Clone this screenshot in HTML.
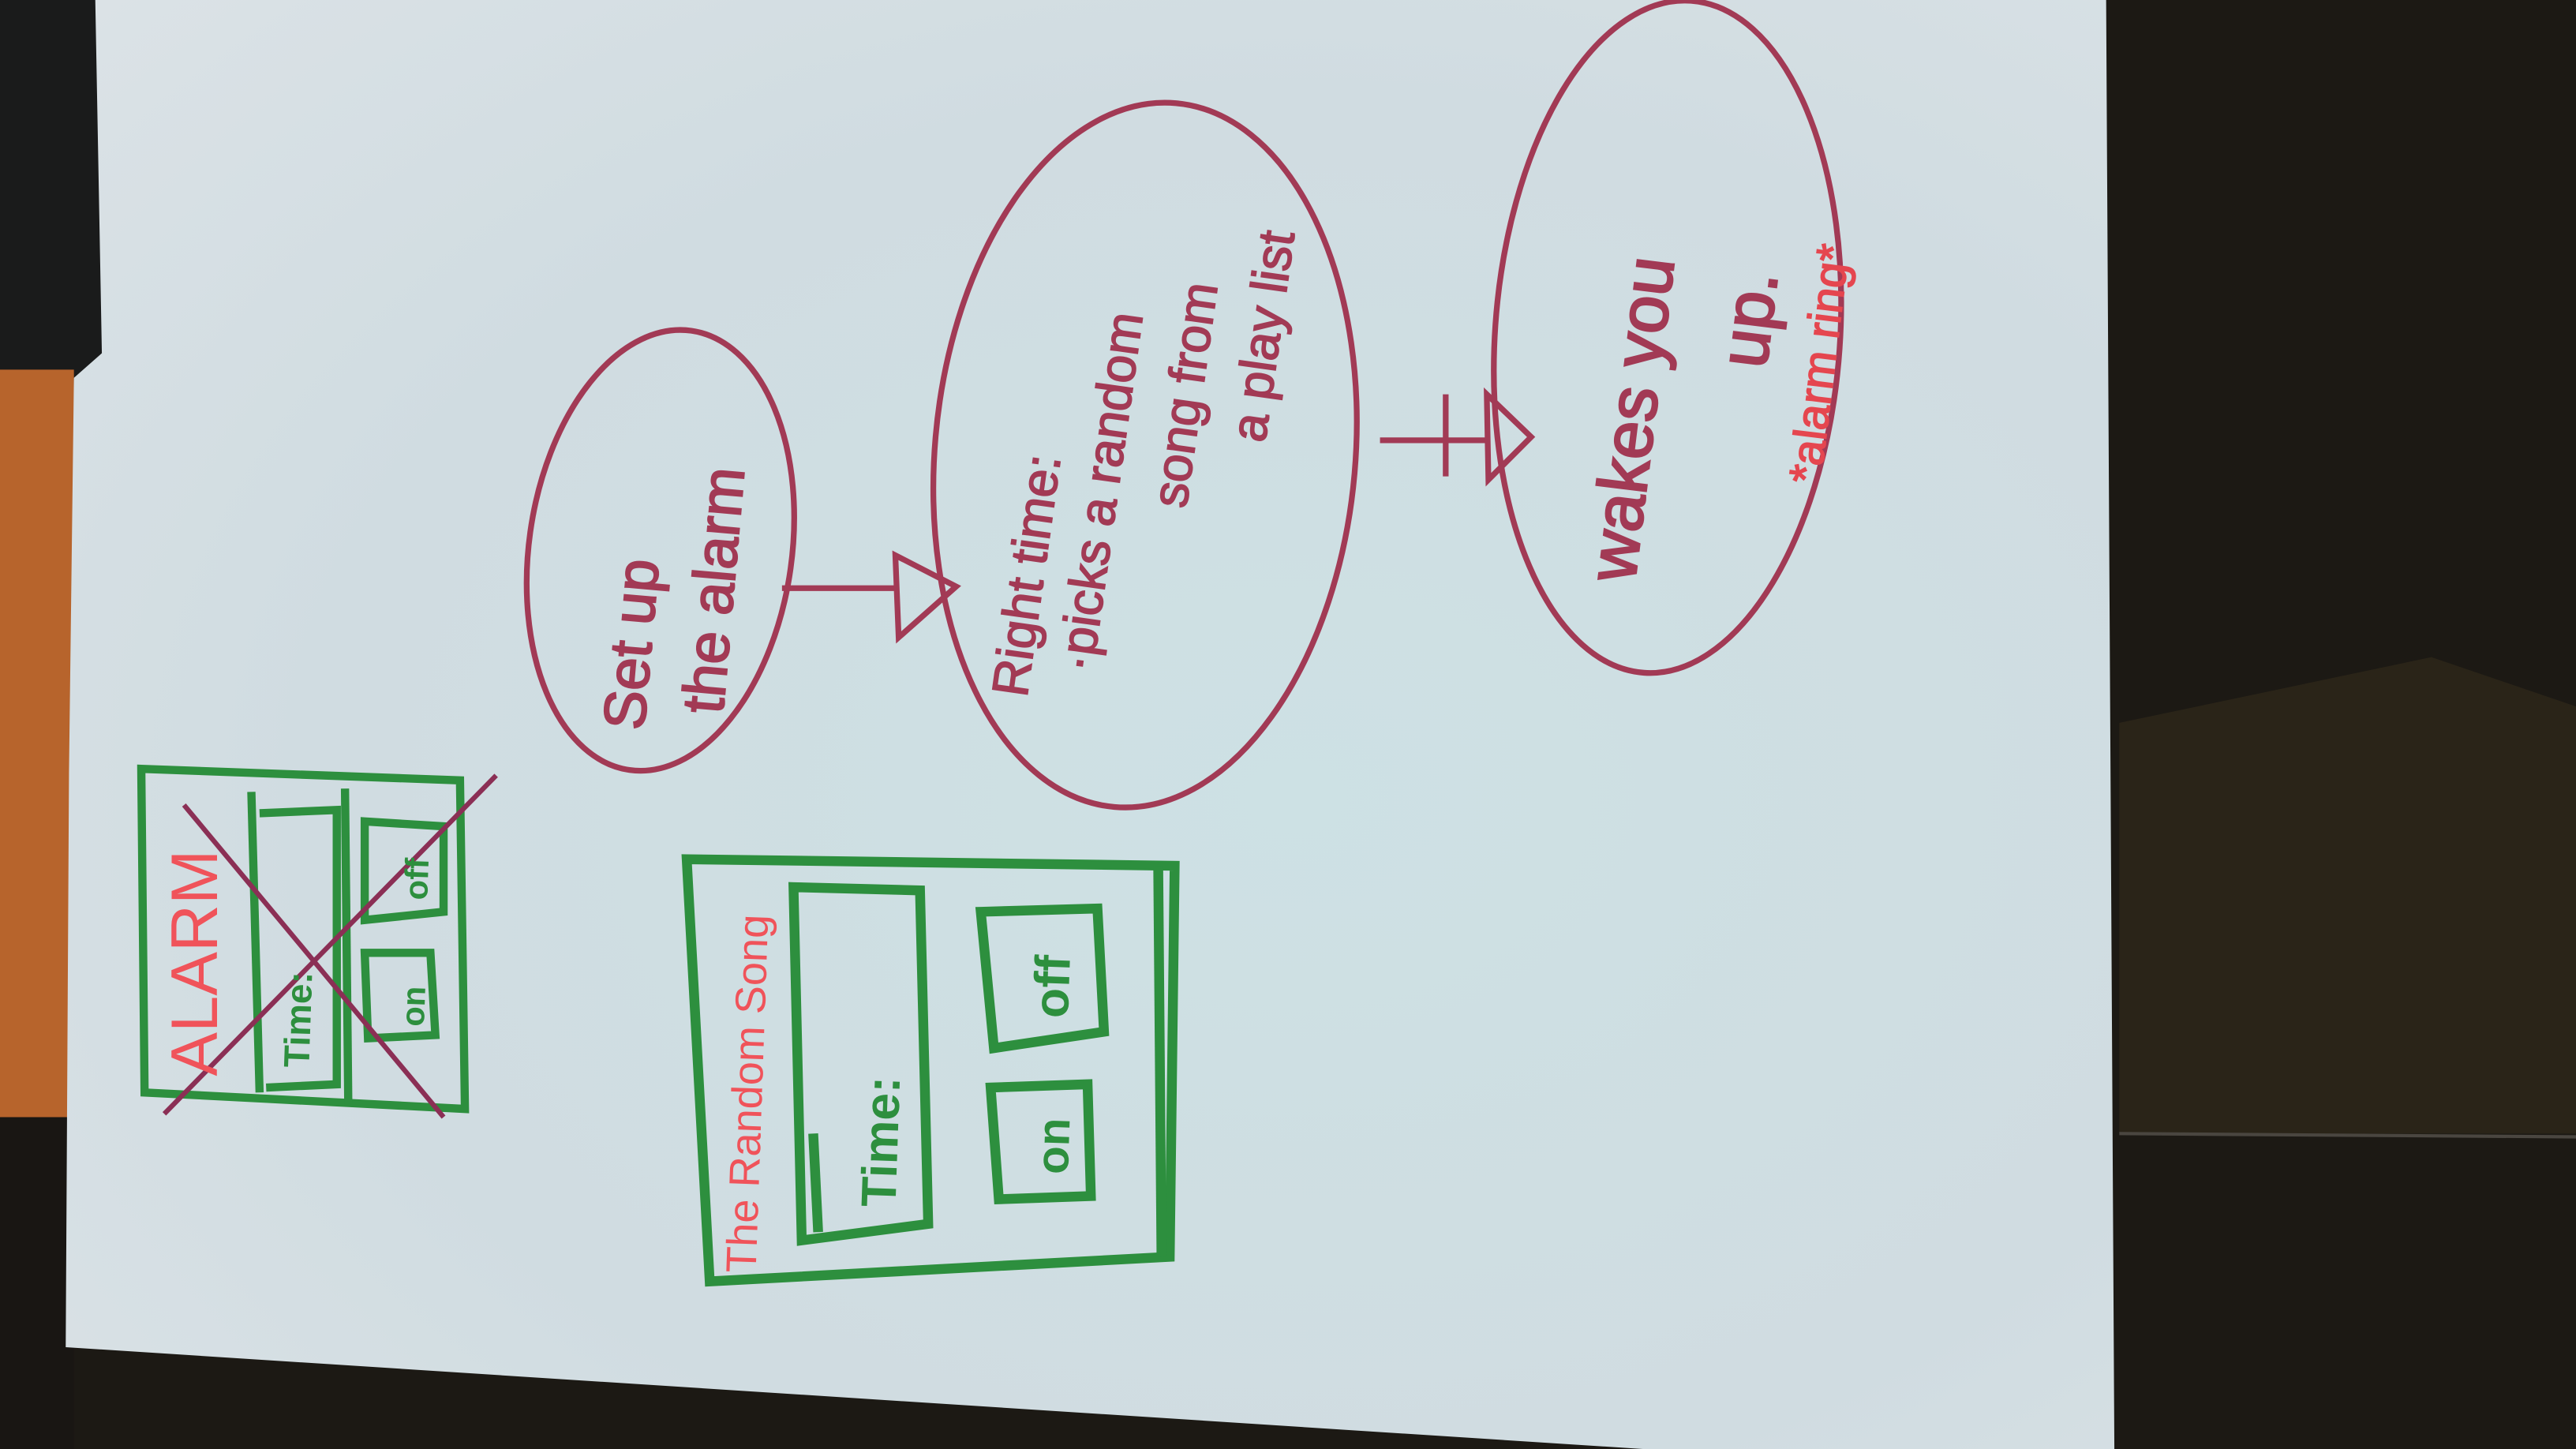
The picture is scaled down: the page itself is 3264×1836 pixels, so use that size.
<!DOCTYPE html>
<html><head><meta charset="utf-8"><style>
html,body{margin:0;padding:0;width:3264px;height:1836px;overflow:hidden;background:#1c1914}
svg{display:block}
</style></head><body>
<svg width="3264" height="1836" viewBox="0 0 1568 882" preserveAspectRatio="none" xmlns="http://www.w3.org/2000/svg">
<defs>
<radialGradient id="pg" cx="0.6" cy="0.55" r="0.8">
<stop offset="0" stop-color="#cde1e4"/>
<stop offset="0.6" stop-color="#d0dce1"/>
<stop offset="1" stop-color="#dbe2e6"/>
</radialGradient>
</defs>
<rect x="0" y="0" width="1568" height="882" fill="#1c1914"/>
<polygon points="1290,440 1480,400 1568,430 1568,690 1290,690" fill="#2a2418"/>
<line x1="1290" y1="690" x2="1568" y2="692" stroke="#4a4640" stroke-width="2"/>
<rect x="0" y="0" width="70" height="230" fill="#1a1b1b"/>
<rect x="0" y="225" width="45" height="460" fill="#b7642c"/>
<rect x="0" y="680" width="45" height="202" fill="#191613"/>
<polygon points="58,0 1282,0 1287,882 1000,882 40,820 42,470 45,230 62,215" fill="url(#pg)"/>
<g fill="none" stroke="#a23a55" stroke-width="3.5">
<ellipse cx="402" cy="335" rx="80" ry="135" transform="rotate(8 402 335)"/>
<ellipse cx="697" cy="277" rx="128" ry="215" transform="rotate(5 697 277)"/>
<ellipse cx="1015" cy="205" rx="105" ry="205" transform="rotate(4 1015 205)"/>
<line x1="476" y1="358" x2="545" y2="358"/>
<path d="M545,338 L582,357 L547,388 Z"/>
<line x1="840" y1="268" x2="905" y2="268"/>
<line x1="880" y1="240" x2="880" y2="290"/>
<path d="M905,240 L932,266 L906,292 Z"/>
</g>
<g fill="#a23a55" stroke="#a23a55" stroke-width="1" font-family="Liberation Sans, sans-serif" font-size="36">
<text transform="translate(392,445) rotate(-85)">Set up</text>
<text transform="translate(440,435) rotate(-85)">the alarm</text>
</g>
<g fill="#a23a55" stroke="#a23a55" stroke-width="0.8" font-family="Liberation Sans, sans-serif" font-size="31">
<text transform="translate(625,425) rotate(-82)">Right time:</text>
<text transform="translate(665,410) rotate(-82)">·picks a random</text>
<text transform="translate(722,310) rotate(-82)">song from</text>
<text transform="translate(770,270) rotate(-82)">a play list</text>
</g>
<g fill="#a23a55" stroke="#a23a55" stroke-width="1.2" font-family="Liberation Sans, sans-serif" font-size="42">
<text transform="translate(995,355) rotate(-83)">wakes you</text>
<text transform="translate(1075,225) rotate(-83)">up.</text>
</g>
<text transform="translate(1108,295) rotate(-83)" fill="#e5464f" stroke="#e5464f" stroke-width="0.8" font-family="Liberation Sans, sans-serif" font-size="28">*alarm ring*</text>
<g fill="none" stroke="#2d8f3e" stroke-width="5">
<path d="M86,468 L280,475 L283,675 L88,665 Z"/>
<line x1="153" y1="482" x2="158" y2="665"/>
<line x1="210" y1="480" x2="212" y2="672"/>
<path d="M158,495 L205,493 L205,660 L162,662"/>
<path d="M222,500 L270,503 L270,555 L222,560 Z"/>
<path d="M222,580 L262,580 L265,630 L224,632 Z"/>
</g>
<g fill="none" stroke="#8b2f55" stroke-width="3">
<line x1="112" y1="490" x2="270" y2="680"/>
<line x1="100" y1="678" x2="302" y2="472"/>
</g>
<text transform="translate(132,655) rotate(-90)" fill="#f0535a" font-family="Liberation Sans, sans-serif" font-size="40">ALARM</text>
<text transform="translate(188,650) rotate(-88)" fill="#2d8f3e" font-family="Liberation Sans, sans-serif" font-size="22" font-weight="bold">Time:</text>
<text transform="translate(260,548) rotate(-88)" fill="#2d8f3e" font-family="Liberation Sans, sans-serif" font-size="20" font-weight="bold">off</text>
<text transform="translate(258,625) rotate(-88)" fill="#2d8f3e" font-family="Liberation Sans, sans-serif" font-size="20" font-weight="bold">on</text>
<g fill="none" stroke="#2d8f3e" stroke-width="6">
<path d="M418,523 L715,527 L712,765 L432,780 Z"/>
<line x1="705" y1="527" x2="707" y2="765"/>
<path d="M483,540 L560,542 L565,745 L488,755 Z"/>
<line x1="495" y1="690" x2="498" y2="750"/>
<path d="M597,555 L668,553 L672,628 L605,638 Z"/>
<path d="M603,662 L662,660 L664,728 L608,730 Z"/>
</g>
<text transform="translate(460,775) rotate(-88)" fill="#f0535a" font-family="Liberation Sans, sans-serif" font-size="26">The Random Song</text>
<text transform="translate(545,735) rotate(-88)" fill="#2d8f3e" font-family="Liberation Sans, sans-serif" font-size="30" font-weight="bold">Time:</text>
<text transform="translate(650,620) rotate(-88)" fill="#2d8f3e" font-family="Liberation Sans, sans-serif" font-size="30" font-weight="bold">off</text>
<text transform="translate(650,715) rotate(-88)" fill="#2d8f3e" font-family="Liberation Sans, sans-serif" font-size="28" font-weight="bold">on</text>
</svg>
</body></html>
